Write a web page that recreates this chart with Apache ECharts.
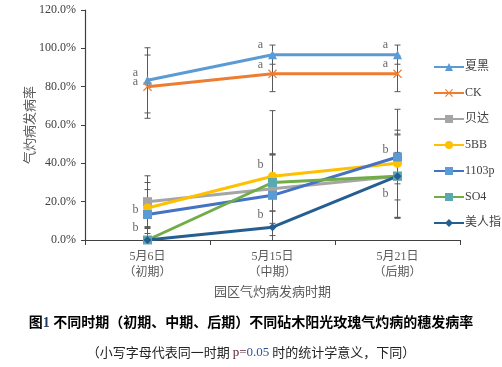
<!DOCTYPE html>
<html><head><meta charset="utf-8">
<script src="https://cdn.jsdelivr.net/npm/echarts@6/dist/echarts.min.js"></script>
<style>html,body{margin:0;padding:0;background:#fff}#c{width:502px;height:367px}</style>
</head><body><div id="c"></div>
<script>
const categories = ['5月6日\n（初期）', '5月15日\n（中期）', '5月21日\n（后期）'];
const seriesNames = ['夏黑', 'CK', '贝达', '5BB', '1103p', 'SO4', '美人指'];
const xiahei = [83.3, 96.7, 96.7];
const ck = [80.0, 86.7, 86.7];
const beida = [20.0, 26.7, 33.3];
const bb5 = [16.7, 33.3, 40.0];
const p1103 = [13.3, 23.3, 43.3];
const so4 = [0.0, 30.0, 33.3];
const meirenzhi = [0.0, 6.7, 33.3];
const errXiahei = [17.0, 5.0, 5.0];
const errCk = [16.5, 9.3, 9.3];
const errBeida = [13.5, 18.0, 21.5];
const errBb5 = [13.3, 34.2, 28.2];
const errP1103 = [13.0, 21.0, 14.0];
const errSo4 = [7.0, 15.0, 12.4];
const errMeirenzhi = [6.0, 8.5, 22.0];
const yTicks = [0, 20, 40, 60, 80, 100, 120];
const letterCats = [0, 0, 0, 0, 1, 1, 1, 1, 2, 2, 2, 2];
const letterVals = [87.0, 82.3, 15.6, 6.1, 101.7, 91.3, 39.1, 13.0, 102.0, 92.0, 47.0, 24.0];
const letterText = ['a', 'a', 'b', 'b', 'a', 'a', 'b', 'b', 'a', 'a', 'b', 'b'];

const values = [xiahei, ck, beida, bb5, p1103, so4, meirenzhi];
const errors = [errXiahei, errCk, errBeida, errBb5, errP1103, errSo4, errMeirenzhi];
const colors = ['#5B9BD5', '#ED7D31', '#A5A5A5', '#FFC000', '#4472C4', '#70AD47', '#255E91'];
const markerColors = ['#5B9BD5', '#ED7D31', '#A5A5A5', '#FFC000', '#5B9BD5', '#5BA9B0', '#255E91'];
const crossPath = 'path://M0,1L1,0L5,4L9,0L10,1L6,5L10,9L9,10L5,6L1,10L0,9L4,5Z';
const symbols = ['triangle', crossPath, 'rect', 'circle', 'rect', 'rect', 'diamond'];
const symbolSizes = [9, 9, 9, 9, 9, 9, 8];
const serif = "'Liberation Serif', 'Noto Sans CJK SC', serif";

const chart = echarts.init(document.getElementById('c'));
const series = [];
values.forEach((vals, i) => {
  series.push({
    type: 'custom', name: seriesNames[i] + '_err', silent: true, clip: true, z: 1,
    data: vals.map((v, k) => [k, v, errors[i][k]]),
    renderItem: function (params, api) {
      const x = api.value(0), y = api.value(1), e = api.value(2);
      const top = api.coord([x, y + e]);
      const bot = api.coord([x, y - e]);
      const hw = 3;
      const st = { stroke: '#595959', lineWidth: 1 };
      return {
        type: 'group', children: [
          { type: 'line', shape: { x1: top[0], y1: top[1], x2: bot[0], y2: bot[1] }, style: st },
          { type: 'line', shape: { x1: top[0] - hw, y1: top[1], x2: top[0] + hw, y2: top[1] }, style: st },
          { type: 'line', shape: { x1: bot[0] - hw, y1: bot[1], x2: bot[0] + hw, y2: bot[1] }, style: st }
        ]
      };
    }
  });
});
values.forEach((vals, i) => {
  series.push({
    type: 'line', name: seriesNames[i], data: vals, z: 3,
    symbol: symbols[i], symbolSize: symbolSizes[i], showAllSymbol: true,
    lineStyle: { color: colors[i], width: 3 },
    itemStyle: { color: markerColors[i], borderWidth: 0 },
    emphasis: { disabled: true }
  });
});
series.push({
  type: 'scatter', name: 'letters', silent: true, symbolSize: 0, z: 5,
  data: letterCats.map((c, k) => [c, letterVals[k], letterText[k]]),
  label: {
    show: true, position: 'inside', offset: [-12, 0],
    formatter: p => p.value[2],
    fontFamily: serif, fontSize: 12, color: '#404040'
  }
});

chart.setOption({
  animation: false,
  backgroundColor: '#ffffff',
  title: [
    {
      text: '{b|图}{n|1}{b| 不同时期（初期、中期、后期）不同砧木阳光玫瑰气灼病的穗发病率}',
      left: 'center', top: 311,
      textStyle: { rich: {
        b: { fontFamily: serif, fontSize: 14, fontWeight: 'bold', color: '#000' },
        n: { fontFamily: serif, fontSize: 14, fontWeight: 'bold', color: '#1F3864' }
      } }
    },
    {
      text: '{t|（小写字母代表同一时期 }{p|p=}{q|0.05}{t| 时的统计学意义，下同）}',
      left: 'center', top: 341,
      textStyle: { fontWeight: 'normal', rich: {
        t: { fontFamily: "'Noto Sans CJK SC', sans-serif", fontSize: 13, fontWeight: 'normal', color: '#222' },
        p: { fontFamily: serif, fontSize: 13, fontWeight: 'normal', color: '#5A1E3C' },
        q: { fontFamily: serif, fontSize: 13, fontWeight: 'normal', color: '#2F5597' }
      } }
    }
  ],
  legend: {
    orient: 'vertical', left: 428, top: 56, itemWidth: 30, itemHeight: 10, itemGap: 14,
    data: seriesNames,
    textStyle: { fontFamily: serif, fontSize: 12, color: '#404040', padding: [0, 0, 0, -4] },
    selectedMode: false
  },
  grid: { left: 85, right: 42, top: 10, bottom: 127, containLabel: false },
  xAxis: {
    type: 'category', data: categories, boundaryGap: true,
    axisLine: { lineStyle: { color: '#404040', width: 1.2 } },
    axisTick: { show: true, length: 5, lineStyle: { color: '#404040' } },
    axisLabel: { fontFamily: serif, fontSize: 12, color: '#595959', lineHeight: 16, margin: 9 },
    name: '园区气灼病发病时期', nameLocation: 'middle', nameGap: 45, nameMoveOverlap: false,
    nameTextStyle: { fontFamily: "'Noto Sans CJK SC', sans-serif", fontSize: 13, color: '#595959' }
  },
  yAxis: {
    type: 'value', min: yTicks[0], max: yTicks[yTicks.length - 1], interval: 20,
    splitLine: { show: false },
    axisLine: { show: true, lineStyle: { color: '#404040', width: 1.2 } },
    axisTick: { show: true, length: 4, lineStyle: { color: '#404040' } },
    axisLabel: { fontFamily: serif, fontSize: 12, color: '#404040', margin: 9, formatter: v => v.toFixed(1) + '%' },
    name: '气灼病发病率', nameLocation: 'middle', nameGap: 49, nameMoveOverlap: false,
    nameTextStyle: { fontFamily: "'Noto Sans CJK SC', sans-serif", fontSize: 13, color: '#595959' }
  },
  series: series
});
</script></body></html>
